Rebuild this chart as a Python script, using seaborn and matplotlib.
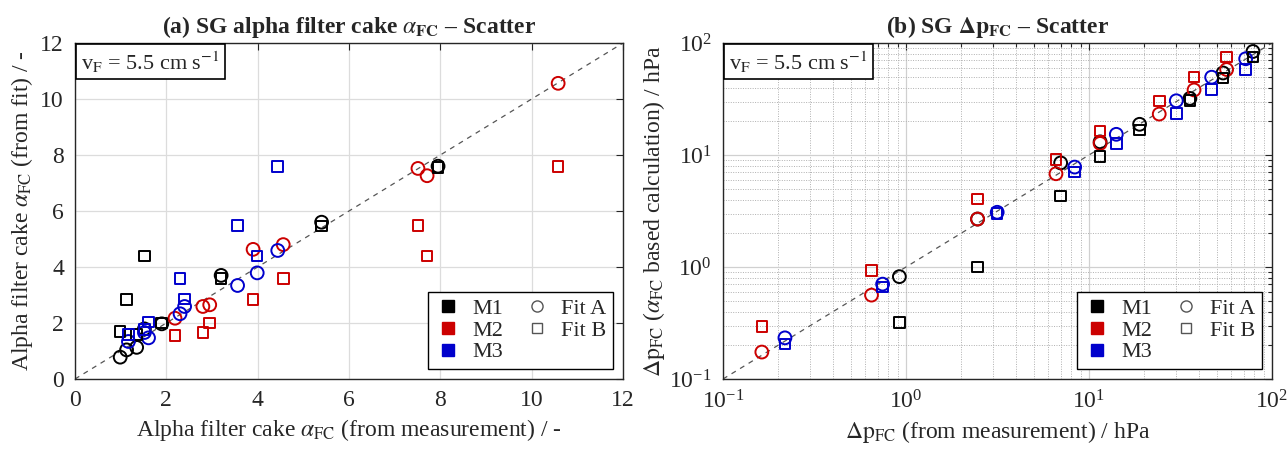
import numpy as np
import pandas as pd
import matplotlib
matplotlib.use("Agg")
import matplotlib.pyplot as plt
from matplotlib.lines import Line2D
from matplotlib.ticker import LogLocator, NullFormatter
import seaborn as sns

# ---------------- data ----------------
methods = ["M1", "M2", "M3"]
fits = ["Fit A", "Fit B"]

alpha_meas_M1 = [0.99, 1.13, 1.35, 1.52, 1.90, 3.20, 5.40, 7.95]
alpha_fitA_M1 = [0.78, 1.04, 1.13, 1.79, 1.97, 3.70, 5.60, 7.60]
alpha_fitB_M1 = [1.70, 2.83, 1.58, 4.39, 2.00, 3.58, 5.47, 7.55]

alpha_meas_M2 = [2.19, 2.80, 2.95, 3.90, 4.56, 7.51, 7.71, 10.58]
alpha_fitA_M2 = [2.17, 2.59, 2.65, 4.63, 4.80, 7.52, 7.26, 10.56]
alpha_fitB_M2 = [1.56, 1.67, 2.00, 2.83, 3.58, 5.49, 4.39, 7.58]

alpha_meas_M3 = [1.17, 1.52, 1.61, 2.30, 2.40, 3.56, 3.99, 4.44]
alpha_fitA_M3 = [1.34, 1.66, 1.47, 2.33, 2.59, 3.34, 3.79, 4.59]
alpha_fitB_M3 = [1.58, 1.76, 2.03, 3.58, 2.85, 5.49, 4.39, 7.58]

dp_meas_M1 = [0.92, 2.46, 7.0, 11.5, 18.9, 35.6, 54.0, 78.7]
dp_fitA_M1 = [0.82, 2.68, 8.5, 13.1, 18.8, 32.0, 54.0, 84.0]
dp_fitB_M1 = [0.32, 1.00, 4.29, 9.66, 16.7, 30.5, 48.9, 74.8]

dp_meas_M2 = [0.163, 0.648, 2.46, 6.6, 11.5, 24.2, 37.5, 56.5]
dp_fitA_M2 = [0.174, 0.561, 2.68, 6.8, 12.7, 23.2, 38.1, 58.0]
dp_fitB_M2 = [0.295, 0.927, 4.06, 9.15, 16.4, 30.3, 49.5, 74.8]

dp_meas_M3 = [0.218, 0.745, 3.15, 8.35, 14.1, 30.0, 46.8, 71.8]
dp_fitA_M3 = [0.233, 0.703, 3.08, 7.8, 15.3, 30.5, 49.5, 72.3]
dp_fitB_M3 = [0.206, 0.665, 3.0, 7.03, 12.7, 23.5, 38.4, 58.0]

alpha_ticks = [0, 2, 4, 6, 8, 10, 12]
dp_ticks = [0.1, 1, 10, 100]

# ---------------- build tables ----------------
alpha_src = {
    "M1": (alpha_meas_M1, alpha_fitA_M1, alpha_fitB_M1),
    "M2": (alpha_meas_M2, alpha_fitA_M2, alpha_fitB_M2),
    "M3": (alpha_meas_M3, alpha_fitA_M3, alpha_fitB_M3),
}
dp_src = {
    "M1": (dp_meas_M1, dp_fitA_M1, dp_fitB_M1),
    "M2": (dp_meas_M2, dp_fitA_M2, dp_fitB_M2),
    "M3": (dp_meas_M3, dp_fitA_M3, dp_fitB_M3),
}


def to_long(src):
    rows = []
    for m, (meas, fa, fb) in src.items():
        for xv, yv in zip(meas, fa):
            rows.append((m, "Fit A", xv, yv))
        for xv, yv in zip(meas, fb):
            rows.append((m, "Fit B", xv, yv))
    return pd.DataFrame(rows, columns=["method", "fit", "meas", "calc"])


df_alpha = to_long(alpha_src)
df_dp = to_long(dp_src)

# ---------------- style ----------------
sns.set_theme(style="white")
plt.rcParams["font.family"] = ["Liberation Serif", "DejaVu Serif"]
plt.rcParams["mathtext.fontset"] = "stix"
plt.rcParams["axes.edgecolor"] = "#262626"
plt.rcParams["axes.linewidth"] = 1.0

colors = {"M1": "#000000", "M2": "#CC0000", "M3": "#0000CC"}
markers = {"Fit A": "o", "Fit B": "s"}
sizes = {"Fit A": 85, "Fit B": 58}

fig = plt.figure(figsize=(12.87, 4.49), dpi=100)
axL = fig.add_axes([75 / 1287, 1 - 379 / 449, 548 / 1287, 336 / 449])
axR = fig.add_axes([723 / 1287, 1 - 379 / 449, 549 / 1287, 336 / 449])


def draw(ax, df):
    for fit in fits:
        for m in methods:
            sub = df[(df.method == m) & (df.fit == fit)]
            sns.scatterplot(data=sub, x="meas", y="calc", ax=ax,
                            marker=markers[fit], s=sizes[fit],
                            facecolor="none", edgecolor=colors[m],
                            linewidth=1.4, legend=False, zorder=3)


def add_legend(ax):
    handles = [Line2D([], [], ls="none", marker="s", ms=8, mfc=colors[m], mec=colors[m])
               for m in methods]
    handles += [Line2D([], [], ls="none", marker=markers[f], ms=8 if f == "Fit A" else 7,
                       mfc="none", mec="#555555", mew=1.0) for f in fits]
    labels = methods + fits
    leg = ax.legend(handles, labels, loc="lower right", ncol=2, fontsize=16,
                    frameon=True, fancybox=False, edgecolor="black",
                    framealpha=1, borderaxespad=0.45, handlelength=1.2,
                    handletextpad=0.5, columnspacing=0.9, labelspacing=0.05,
                    borderpad=0.3)
    leg.get_frame().set_linewidth(1.0)


def add_box(ax):
    ax.text(0.011, 0.982, r"v$_\mathrm{F}$ = 5.5 cm s$^{\mathrm{-1}}$", transform=ax.transAxes,
            ha="left", va="top", fontsize=16, zorder=5,
            bbox=dict(boxstyle="square,pad=0.22", fc="white", ec="black", lw=1.2))


# ---- left panel ----
axL.plot([alpha_ticks[0], alpha_ticks[-1]], [alpha_ticks[0], alpha_ticks[-1]],
         ls=(0, (4, 4)), color="#555555", lw=0.9, zorder=2)
draw(axL, df_alpha)
axL.set_xlim(alpha_ticks[0], alpha_ticks[-1])
axL.set_ylim(alpha_ticks[0], alpha_ticks[-1])
axL.set_xticks(alpha_ticks)
axL.set_yticks(alpha_ticks)
axL.grid(True, which="major", color="#DCDCDC", lw=0.9, zorder=0)
axL.set_axisbelow(True)
axL.tick_params(direction="in", top=True, right=True, labelsize=17, length=5,
                width=0.8, color="#262626", pad=8)
axL.set_xlabel(r"Alpha filter cake $\alpha_{\mathrm{FC}}$ (from measurement) / -", fontsize=17, labelpad=4)
axL.set_ylabel(r"Alpha filter cake $\alpha_{\mathrm{FC}}$ (from fit) / -", fontsize=17, labelpad=4)
axL.set_title(r"(a) SG alpha filter cake $\alpha_{\mathbf{FC}}$ – Scatter", fontsize=17,
              fontweight="bold", pad=7)
add_box(axL)
add_legend(axL)

# ---- right panel ----
axR.set_xscale("log")
axR.set_yscale("log")
axR.plot([dp_ticks[0], dp_ticks[-1]], [dp_ticks[0], dp_ticks[-1]],
         ls=(0, (4, 4)), color="#555555", lw=0.9, zorder=2)
draw(axR, df_dp)
axR.set_xlim(dp_ticks[0], dp_ticks[-1])
axR.set_ylim(dp_ticks[0], dp_ticks[-1])
for axis in (axR.xaxis, axR.yaxis):
    axis.set_major_locator(LogLocator(base=10, numticks=10))
    axis.set_minor_locator(LogLocator(base=10, subs=np.arange(2, 10), numticks=20))
    axis.set_minor_formatter(NullFormatter())
axR.grid(True, which="major", color="#D0D0D0", lw=0.9, zorder=0)
axR.grid(True, which="minor", color="#B0B0B0", lw=0.7, ls=(0, (1, 1.5)), zorder=0)
axR.set_axisbelow(True)
axR.tick_params(which="both", direction="in", top=True, right=True, labelsize=17,
                width=0.8, color="#262626", pad=8)
axR.tick_params(which="major", length=5)
axR.tick_params(which="minor", length=3)
axR.set_xlabel(r"$\Delta\mathrm{p}_{\mathrm{FC}}$ (from measurement) / hPa", fontsize=17, labelpad=4)
axR.set_ylabel(r"$\Delta\mathrm{p}_{\mathrm{FC}}$ ($\alpha_{\mathrm{FC}}$ based calculation) / hPa",
               fontsize=17, labelpad=2)
axR.set_title(r"(b) SG $\mathbf{\Delta p_{FC}}$ – Scatter", fontsize=17, fontweight="bold", pad=7)
add_box(axR)
add_legend(axR)

fig.savefig("out.png", dpi=100)
